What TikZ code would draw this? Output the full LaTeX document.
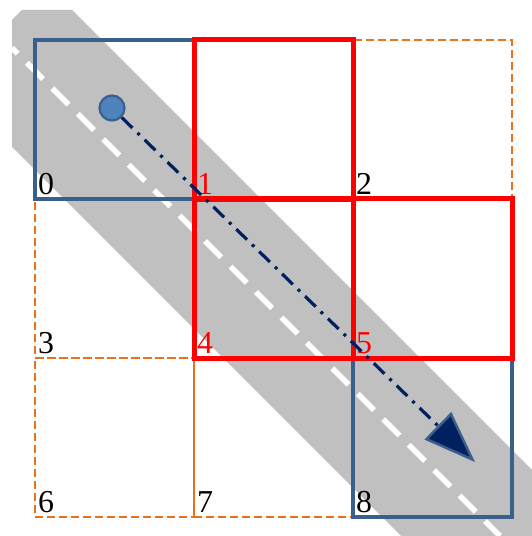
\documentclass[tikz,border=0pt]{standalone}
\usepackage{fontspec}
\setmainfont{Liberation Serif}
\usetikzlibrary{arrows.meta}
\definecolor{bandgray}{HTML}{C0C0C0}
\definecolor{boxblue}{HTML}{3B5F8C}
\definecolor{cellorange}{HTML}{E8711E}
\definecolor{pointblue}{HTML}{4F81BD}
\definecolor{navy}{HTML}{002060}

\tikzset{
  cell/.style={minimum size=159bp, inner sep=0pt, outer sep=0pt},
  neighbour/.style={cell, draw=cellorange, line width=2.8bp, dash pattern=on 8bp off 4bp},
  visited/.style={cell, draw=boxblue, line width=3.6bp},
  hit/.style={cell, draw=red, line width=5bp},
  num/.style={anchor=south west, inner xsep=3bp, inner ysep=4bp, font=\fontsize{32}{32}\selectfont},
  lane/.style={draw=white, line width=5.5bp, dash pattern=on 23bp off 13bp, dash phase=15bp},
  route/.style={draw=navy, line width=3.2bp, dash pattern=on 15bp off 7bp on 3bp off 7bp,
    -{Triangle[length=52bp,width=38bp,color=boxblue,fill=navy,line width=2.5bp]}},
  startpt/.style={circle, minimum size=25bp, inner sep=0pt, fill=pointblue, draw=boxblue, line width=2.2bp},
}

\begin{document}
\begin{tikzpicture}[x=1bp,y=-1bp]
\useasboundingbox (0,0) rectangle (532,536);
\def\cs{159}
% gray band and its white centre line
\fill[bandgray] (22,10) -- (72,10) -- (532,470) -- (532,536) -- (401,536) -- (12,147) -- (12,20) -- cycle;
\coordinate (lane in) at (12,48);
\coordinate (lane out) at (500,536);
\draw[lane] (lane in) -- (lane out);
% grid cells
\foreach \n/\i/\j in {2/2/0,3/0/1,6/0/2,7/1/2}
  \node[neighbour] (c\n) at ({35+\cs*(\i+0.5)},{40+\cs*(\j+0.5)}) {};
\foreach \n/\i/\j in {0/0/0,8/2/2}
  \node[visited] (c\n) at ({35+\cs*(\i+0.5)},{40+\cs*(\j+0.5)}) {};
\foreach \n/\i/\j in {1/1/0,4/1/1,5/2/1}
  \node[hit] (c\n) at ({35+\cs*(\i+0.5)},{40+\cs*(\j+0.5)}) {};
% cell numbers
\foreach \n in {0,2,3,6,7,8}
  \node[num] (l\n) at (c\n.south west) {\n};
\foreach \n in {1,4,5}
  \node[num,text=red] (l\n) at (c\n.south west) {\n};
% start point and direction
\node[startpt] (start) at (112,108) {};
\coordinate (goal) at (475,462);
\draw[route] (start) -- (goal);
\end{tikzpicture}
\end{document}
